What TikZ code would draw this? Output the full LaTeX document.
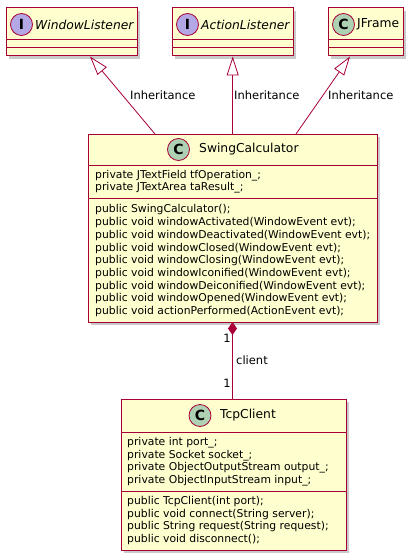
\documentclass[tikz,border=0pt]{standalone}
\usepackage{fontspec}
\setmainfont{DejaVu Sans}
\usetikzlibrary{arrows.meta,shadows}
\definecolor{umlred}{HTML}{A80036}
\definecolor{umlfill}{HTML}{FEFECE}
\definecolor{cgreen}{HTML}{ADD1B2}
\definecolor{ipurple}{HTML}{B4A7E5}
\tikzset{
  box/.style={draw=umlred, fill=umlfill, line width=1pt, anchor=north west, inner sep=0pt, outer sep=0pt,
    drop shadow={shadow xshift=3pt, shadow yshift=-3pt, opacity=0.35, fill=black!60}},
  sepline/.style={draw=umlred, line width=1pt},
  spot/.style={circle, draw=umlred, line width=0.8pt, minimum size=22pt, inner sep=0pt, font=\fontsize{14}{14}\selectfont\bfseries},
  cname/.style={anchor=west, inner sep=0pt, font=\fontsize{12.3}{14}\selectfont},
  member/.style={anchor=west, inner sep=0pt, font=\fontsize{10.8}{12}\selectfont},
  lbl/.style={inner sep=0pt, font=\fontsize{11.5}{13}\selectfont},
  conn/.style={draw=umlred, line width=0.8pt},
  inh/.style={conn, -{Triangle[open, length=19pt, width=12pt, line width=0.8pt]}},
}
\begin{document}
\begin{tikzpicture}[x=1pt, y=-1pt]
\useasboundingbox (0,0) rectangle (412,559);
% WindowListener
\node[box, minimum width=131pt, minimum height=48pt] (wl) at (6,8) {};
\draw[sepline] (6,40) -- (137,40) (6,48) -- (137,48);
\node[spot, fill=ipurple] (wlspot) at (21.5,24.5) {I};
\node[cname, font=\fontsize{12.3}{14}\selectfont\itshape] (wlname) at (35,24.5) {WindowListener};
% ActionListener
\node[box, minimum width=121pt, minimum height=48pt] (al) at (172,8) {};
\draw[sepline] (172,40) -- (293,40) (172,48) -- (293,48);
\node[spot, fill=ipurple] (alspot) at (187.5,24.5) {I};
\node[cname, font=\fontsize{12.3}{14}\selectfont\itshape] (alname) at (201,24.5) {ActionListener};
% JFrame
\node[box, minimum width=75pt, minimum height=48pt] (jf) at (328,8) {};
\draw[sepline] (328,40) -- (403,40) (328,48) -- (403,48);
\node[spot, fill=cgreen] (jfspot) at (343.5,24.5) {C};
\node[cname] (jfname) at (357,24.5) {JFrame};
% SwingCalculator
\node[box, minimum width=289pt, minimum height=188pt] (sc) at (88,134) {};
\draw[sepline] (88,165) -- (377,165) (88,198) -- (377,198);
\node[spot, fill=cgreen] (scspot) at (178.5,149.5) {C};
\node[cname] (scname) at (199,149.5) {SwingCalculator};
\node[member] (sa1) at (95,175.5) {private JTextField tfOperation\_;};
\node[member] (sa2) at (95,188) {private JTextArea taResult\_;};
\node[member] (sm1) at (95,210) {public SwingCalculator();};
\node[member] (sm2) at (95,222.7) {public void windowActivated(WindowEvent evt);};
\node[member] (sm3) at (95,235.4) {public void windowDeactivated(WindowEvent evt);};
\node[member] (sm4) at (95,248.1) {public void windowClosed(WindowEvent evt);};
\node[member] (sm5) at (95,260.8) {public void windowClosing(WindowEvent evt);};
\node[member] (sm6) at (95,273.5) {public void windowIconified(WindowEvent evt);};
\node[member] (sm7) at (95,286.2) {public void windowDeiconified(WindowEvent evt);};
\node[member] (sm8) at (95,298.9) {public void windowOpened(WindowEvent evt);};
\node[member] (sm9) at (95,311.6) {public void actionPerformed(ActionEvent evt);};
% TcpClient
\node[box, minimum width=225pt, minimum height=151pt] (tc) at (121,399) {};
\draw[sepline] (121,432) -- (346,432) (121,491) -- (346,491);
\node[spot, fill=cgreen] (tcspot) at (200,415.5) {C};
\node[cname] (tcname) at (220,415.5) {TcpClient};
\node[member] (ta1) at (127,442.5) {private int port\_;};
\node[member] (ta2) at (127,455.2) {private Socket socket\_;};
\node[member] (ta3) at (127,467.9) {private ObjectOutputStream output\_;};
\node[member] (ta4) at (127,480.6) {private ObjectInputStream input\_;};
\node[member] (tm1) at (127,501.5) {public TcpClient(int port);};
\node[member] (tm2) at (127,514.2) {public void connect(String server);};
\node[member] (tm3) at (127,526.9) {public String request(String request);};
\node[member] (tm4) at (127,539.6) {public void disconnect();};
% connector end points
\coordinate (wltip) at (90,56.5);
\coordinate (altip) at (232.7,56.5);
\coordinate (jftip) at (350,56.5);
\coordinate (scw) at (155,134);
\coordinate (scm) at (232.7,134);
\coordinate (sce) at (296,134);
\coordinate (scb) at (232.5,322);
\coordinate (tct) at (232.5,399);
\draw[inh] (scw) -- (wltip);
\draw[inh] (scm) -- (altip);
\draw[inh] (sce) -- (jftip);
\draw[conn, {Diamond[length=13pt, width=9pt, fill=umlred]}-] (scb) -- (tct);
\node[lbl, anchor=west] (l1) at (130,95) {Inheritance};
\node[lbl, anchor=west] (l2) at (234,95) {Inheritance};
\node[lbl, anchor=west] (l3) at (328,95) {Inheritance};
\node[lbl, anchor=east] (m1) at (231,338) {1};
\node[lbl, anchor=west] (m2) at (236,360) {client};
\node[lbl, anchor=east] (m3) at (231,383) {1};
\end{tikzpicture}
\end{document}
